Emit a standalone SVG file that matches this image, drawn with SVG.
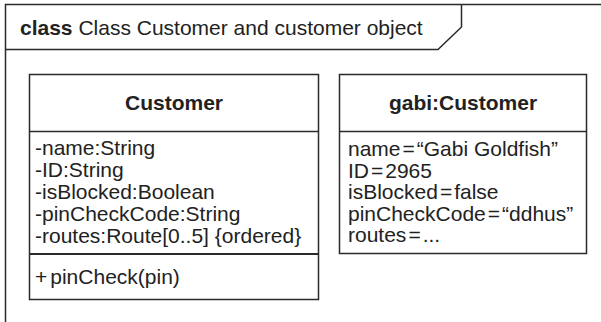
<svg xmlns="http://www.w3.org/2000/svg" width="601" height="322" viewBox="0 0 601 322">
<style>
.ln{fill:none;stroke:#2a2a2a;stroke-width:1.5}
.t{font-family:"Liberation Sans",Arial,sans-serif;font-size:21px;fill:#222}
.b{font-weight:bold}
</style>
<rect width="601" height="322" fill="#fff"/>
<g id="frame">
<path class="ln" d="M5.5,330 V4.5 H610"/>
<path class="ln" d="M5.5,49.5 H438 L461.5,27 V4.5"/>
<text class="t" x="20" y="35"><tspan class="b">class</tspan> Class Customer and customer object</text>
</g>
<g id="customer">
<rect class="ln" x="29.5" y="74.5" width="289" height="225"/>
<line class="ln" x1="29.5" y1="131.5" x2="318.5" y2="131.5"/>
<line class="ln" x1="29.5" y1="254" x2="318.5" y2="254" style="stroke-width:2"/>
<text class="t b" x="174" y="110" text-anchor="middle">Customer</text>
<text class="t" x="35"><tspan x="35" y="155">-name:String</tspan><tspan x="35" y="177">-ID:String</tspan><tspan x="35" y="199">-isBlocked:Boolean</tspan><tspan x="35" y="221">-pinCheckCode:String</tspan><tspan x="35" y="243">-routes:Route[0..5] {ordered}</tspan></text>
<text class="t" x="35" y="284">+<tspan dx="3">pinCheck(pin)</tspan></text>
</g>
<g id="gabi">
<rect class="ln" x="339.5" y="74.5" width="247" height="179"/>
<line class="ln" x1="339.5" y1="131.5" x2="586.5" y2="131.5"/>
<text class="t b" x="463" y="110" text-anchor="middle">gabi:Customer</text>
<text class="t"><tspan x="348" y="156">name<tspan dx="2">=</tspan><tspan dx="2">“Gabi Goldfish”</tspan></tspan><tspan x="348" y="178">ID<tspan dx="2">=</tspan><tspan dx="2">2965</tspan></tspan><tspan x="348" y="199">isBlocked<tspan dx="2">=</tspan><tspan dx="2">false</tspan></tspan><tspan x="348" y="221">pinCheckCode<tspan dx="2">=</tspan><tspan dx="2">“ddhus”</tspan></tspan><tspan x="348" y="242">routes<tspan dx="2">=</tspan><tspan dx="2">...</tspan></tspan></text>
</g>
<g id="connectors"/>
</svg>
